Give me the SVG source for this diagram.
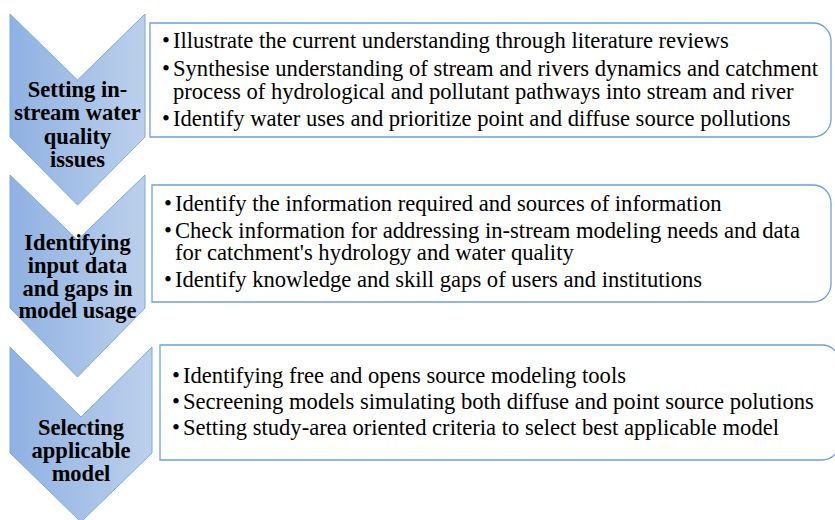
<svg xmlns="http://www.w3.org/2000/svg" width="835" height="520" viewBox="0 0 835 520">
  <defs>
    <linearGradient id="chevGrad" x1="0" y1="0" x2="1" y2="0">
      <stop offset="0" stop-color="#8FB1E2"/>
      <stop offset="1" stop-color="#BCD0EB"/>
    </linearGradient>
    <style>
      .chev { fill: url(#chevGrad); stroke: #7EA9DE; stroke-width: 1; }
      .box { fill: #FFFFFF; stroke: #6FA0DC; stroke-width: 1.3; }
      .ct { font-weight: bold; font-size: 22.5px; fill: #000; text-anchor: middle; }
      .bt { font-size: 22.6px; fill: #000; }
    </style>
  </defs>

  <g font-family="Liberation Serif, DejaVu Serif, serif">
  <g id="step1">
    <path class="chev" d="M10,14 L77.5,80 L145,14 L145,137 L77.5,205 L10,137 Z"/>
    <text class="ct" x="77.5" y="97">Setting in-</text>
    <text class="ct" x="77.5" y="120">stream water</text>
    <text class="ct" x="77.5" y="144">quality</text>
    <text class="ct" x="77.5" y="167">issues</text>
  </g>
  <g id="box1">
    <path class="box" d="M150,23 H813 A18,18 0 0 1 831,41 V119 A18,18 0 0 1 813,137 H150 Z"/>
    <text class="bt" x="162" y="48">•</text>
    <text class="bt" x="173" y="48">Illustrate the current understanding through literature reviews</text>
    <text class="bt" x="162" y="76">•</text>
    <text class="bt" x="173" y="76">Synthesise understanding of stream and rivers dynamics and catchment</text>
    <text class="bt" x="173" y="99">process of hydrological and pollutant pathways into stream and river</text>
    <text class="bt" x="162" y="126">•</text>
    <text class="bt" x="173" y="126">Identify water uses and prioritize point and diffuse source pollutions</text>
  </g>

  <g id="step2">
    <path class="chev" d="M10,175 L77.5,240 L145,175 L145,308 L77.5,377 L10,308 Z"/>
    <text class="ct" x="77.5" y="250">Identifying</text>
    <text class="ct" x="77.5" y="273">input data</text>
    <text class="ct" x="77.5" y="296">and gaps in</text>
    <text class="ct" x="77.5" y="318">model usage</text>
  </g>
  <g id="box2">
    <path class="box" d="M152,185 H813 A18,18 0 0 1 831,203 V284 A18,18 0 0 1 813,302 H152 Z"/>
    <text class="bt" x="164" y="211">•</text>
    <text class="bt" x="175" y="211">Identify the information required and sources of information</text>
    <text class="bt" x="164" y="238">•</text>
    <text class="bt" x="175" y="238">Check information for addressing in-stream modeling needs and data</text>
    <text class="bt" x="175" y="260">for catchment's hydrology and water quality</text>
    <text class="bt" x="164" y="287">•</text>
    <text class="bt" x="175" y="287">Identify knowledge and skill gaps of users and institutions</text>
  </g>

  <g id="step3">
    <path class="chev" d="M10,347 L81,417 L152,347 L152,453 L81,522 L10,453 Z"/>
    <text class="ct" x="81" y="435">Selecting</text>
    <text class="ct" x="81" y="458">applicable</text>
    <text class="ct" x="81" y="481">model</text>
  </g>
  <g id="box3">
    <path class="box" d="M160,345 H822 A18,18 0 0 1 840,363 V442 A18,18 0 0 1 822,460 H160 Z"/>
    <text class="bt" x="172" y="383">•</text>
    <text class="bt" x="183" y="383">Identifying free and opens source modeling tools</text>
    <text class="bt" x="172" y="409">•</text>
    <text class="bt" x="183" y="409">Secreening models simulating both diffuse and point source polutions</text>
    <text class="bt" x="172" y="435">•</text>
    <text class="bt" x="183" y="435">Setting study-area oriented criteria to select best applicable model</text>
  </g>
  </g>

  <g id="connectors"></g>
</svg>
